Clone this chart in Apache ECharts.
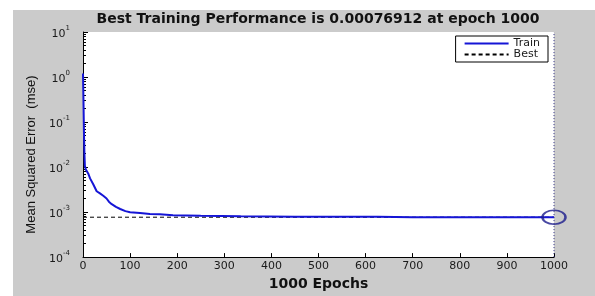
<!DOCTYPE html>
<html>
<head>
<meta charset="utf-8">
<script src="https://cdn.jsdelivr.net/npm/echarts@6/dist/echarts.min.js"></script>
<style>
  html, body { margin: 0; padding: 0; background: #fff; }
  #chart { position: absolute; left: 13px; top: 10px; width: 582px; height: 286px; }
</style>
</head>
<body>
<div id="chart"></div>
<script>
// epochs and mse
const epochs = [0, 1, 2, 3, 4, 6, 8, 11, 15, 22, 29, 36, 43, 50, 55, 61, 70, 79, 90, 100, 121, 142, 163, 191, 250, 335, 450, 626, 700, 850, 1000]
const mse = [1.2, 0.3, 0.06, 0.02, 0.0105, 0.0088, 0.008, 0.0072, 0.0056, 0.0041, 0.0029, 0.0026, 0.0023, 0.002, 0.0017, 0.0015, 0.0013, 0.00117, 0.00105, 0.00099, 0.00095, 0.00091, 0.00089, 0.00085, 0.00083, 0.00081, 0.00079, 0.000785, 0.000769, 0.000769, 0.00076912]
const bestValue = 0.00076912
const bestEpoch = 1000
const yMin = 1e-4
const yMax = 10
const minorMultipliers = [2, 3, 4, 5, 6, 7, 8, 9]

const chart = echarts.init(document.getElementById('chart'))

// minor log ticks (2..9 in each decade), on a hidden log10 value axis
const minorTickValues = []
for (let e = -4; e < 1; e++) {
  minorMultipliers.forEach(k => minorTickValues.push(Math.log10(k) + e))
}

const txt = '#1a1a1a'
const font = 'DejaVu Sans'

const option = {
  animation: false,
  backgroundColor: '#cbcbcb',
  textStyle: { fontFamily: font },
  grid: {
    left: 70, right: 41, top: 22, bottom: 31,
    show: true, backgroundColor: '#ffffff', borderWidth: 0
  },
  graphic: [{
    type: 'text',
    x: 305, y: 2,
    style: {
      text: 'Best Training Performance is 0.00076912 at epoch 1000',
      font: 'bold 14px "DejaVu Sans"',
      fill: '#111',
      textAlign: 'center'
    }
  }],
  legend: {
    orient: 'vertical',
    right: 47, top: 26,
    padding: [2, 8, 2, 8],
    itemGap: 0,
    itemWidth: 44,
    itemHeight: 10,
    borderColor: '#000',
    borderWidth: 1,
    backgroundColor: '#fff',
    itemStyle: { opacity: 0 },
    textStyle: { fontSize: 11, color: txt, fontFamily: font },
    data: ['Train', 'Best']
  },
  xAxis: {
    type: 'value',
    min: 0, max: 1000, interval: 100,
    name: '1000 Epochs',
    nameLocation: 'middle',
    nameGap: 15,
    nameTextStyle: { fontSize: 14, fontWeight: 'bold', color: '#111', verticalAlign: 'top' },
    axisLine: { onZero: false, lineStyle: { color: '#000', width: 1 } },
    axisTick: { inside: true, length: 4, lineStyle: { color: '#000' } },
    axisLabel: { fontSize: 11, color: txt, margin: 4, formatter: v => String(v) },
    splitLine: { show: false }
  },
  yAxis: [{
    type: 'log',
    logBase: 10,
    min: yMin, max: yMax,
    name: 'Mean Squared Error  (mse)',
    nameLocation: 'middle',
    nameRotate: 90,
    nameGap: 40,
    nameTextStyle: { fontSize: 13, color: '#111', fontFamily: 'Liberation Sans', padding: [0, 20, 0, 0] },
    axisLine: { show: true, onZero: false, lineStyle: { color: '#000', width: 1 } },
    axisTick: { inside: true, length: 5, lineStyle: { color: '#000' } },
    axisLabel: {
      margin: 13,
      color: txt,
      formatter: v => '{b|10}{e|' + Math.round(Math.log10(v)) + '}',
      rich: {
        b: { fontSize: 11, color: txt, lineHeight: 15, verticalAlign: 'bottom' },
        e: { fontSize: 7, color: txt, verticalAlign: 'top', lineHeight: 9 }
      }
    },
    splitLine: { show: false }
  }, {
    type: 'value',
    min: -4, max: 1,
    position: 'left',
    axisLine: { show: false, onZero: false },
    axisTick: { show: true, inside: true, length: 3, customValues: minorTickValues, lineStyle: { color: '#000' } },
    axisLabel: { show: false },
    splitLine: { show: false }
  }],
  series: [
    {
      name: 'Best',
      type: 'line',
      symbol: 'none',
      z: 2,
      lineStyle: { color: '#000', width: 1, type: [4, 3] },
      itemStyle: { color: '#000' },
      data: [[0, bestValue], [bestEpoch, bestValue]]
    },
    {
      name: 'Train',
      type: 'line',
      symbol: 'none',
      z: 3,
      lineStyle: { color: '#1515d6', width: 2 },
      itemStyle: { color: '#1515d6' },
      data: epochs.map((e, i) => [e, mse[i]])
    },
    {
      name: 'bestEpochLine',
      type: 'line',
      symbol: 'none',
      z: 2,
      lineStyle: { color: '#2a2a80', width: 1, type: [1, 2] },
      data: [[bestEpoch, yMin], [bestEpoch, yMax]]
    },
    {
      name: 'bestPoint',
      type: 'scatter',
      symbol: 'circle',
      symbolSize: [23, 14],
      z: 4,
      itemStyle: { color: 'rgba(0,0,0,0)', borderColor: '#1c1c8c', borderWidth: 2 },
      data: [[bestEpoch, bestValue]]
    }
  ]
}

chart.setOption(option)
</script>
</body>
</html>
